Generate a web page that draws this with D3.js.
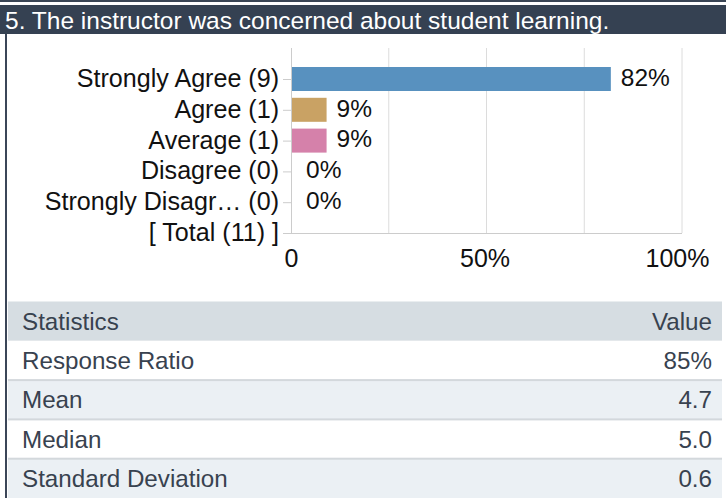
<!DOCTYPE html>
<html>
<head>
<meta charset="utf-8">
<script src="https://cdn.jsdelivr.net/npm/d3@7"></script>
<style>
  html, body { margin: 0; padding: 0; background: #ffffff; }
  svg { display: block; font-family: "Liberation Sans", Arial, Helvetica, sans-serif; }
</style>
</head>
<body>
<svg id="chart" width="726" height="498"></svg>
<script>
const title = "5. The instructor was concerned about student learning.";
const categories = ["Strongly Agree (9)", "Agree (1)", "Average (1)", "Disagree (0)", "Strongly Disagr\u2026 (0)", "[ Total (11) ]"];
const counts = [9, 1, 1, 0, 0];
const percents = [81.8, 9.1, 9.1, 0, 0];
const percentLabels = ["82%", "9%", "9%", "0%", "0%"];
const barColors = ["#5891bf", "#c9a264", "#d581aa", "#999999", "#999999"];
const gridTicks = [0, 25, 50, 75, 100];
const labelTicks = [0, 50, 100];
const labelTickText = ["0", "50%", "100%"];
const statNames = ["Response Ratio", "Mean", "Median", "Standard Deviation"];
const statValues = ["85%", "4.7", "5.0", "0.6"];
const statHeader = ["Statistics", "Value"];

const svg = d3.select("#chart");
const W = 726, H = 498;

// header band
svg.append("rect").attr("x", 0).attr("y", 0).attr("width", W).attr("height", 2).attr("fill", "#3a4555");
svg.append("rect").attr("x", 0).attr("y", 5).attr("width", W).attr("height", 29).attr("fill", "#354152");
svg.append("text").attr("x", 5).attr("y", 28.5).attr("fill", "#ffffff")
  .attr("font-size", 24.5).text(title);
// left border
svg.append("rect").attr("x", 5).attr("y", 34).attr("width", 2).attr("height", H - 34).attr("fill", "#3b4658");

// chart
const plotTop = 48, plotLeft = 291, plotRight = 682;
const x = d3.scaleLinear().domain([0, 100]).range([plotLeft, plotRight]);
const y = d3.scalePoint().domain(categories).range([79, 233]);
const bottom = y(categories[categories.length - 1]);

const g = svg.append("g");
// gridlines
g.selectAll("line.grid").data(gridTicks.slice(1)).enter().append("line")
  .attr("class", "grid")
  .attr("x1", d => x(d)).attr("x2", d => x(d))
  .attr("y1", plotTop).attr("y2", bottom)
  .attr("stroke", "#dcdcdc").attr("stroke-width", 1);

// left axis
const yAxis = d3.axisLeft(y).tickSize(8).tickPadding(4);
const ya = g.append("g").attr("transform", `translate(${plotLeft},0)`).call(yAxis);
ya.select(".domain").remove();
ya.selectAll(".tick line").attr("stroke", "#cccccc");
ya.selectAll(".tick text").attr("font-size", 25.1).attr("fill", "#111111")
  .attr("font-family", "'Liberation Sans', Arial, sans-serif").attr("dy", "0.3em");
g.append("line").attr("x1", plotLeft + 0.5).attr("x2", plotLeft + 0.5)
  .attr("y1", plotTop).attr("y2", bottom).attr("stroke", "#cccccc");
g.append("line").attr("x1", plotLeft).attr("x2", plotRight)
  .attr("y1", bottom + 0.5).attr("y2", bottom + 0.5).attr("stroke", "#cccccc");

// bottom tick labels
const xAxis = d3.axisBottom(x).tickValues(labelTicks)
  .tickFormat((d, i) => labelTickText[i]).tickSize(0).tickPadding(16);
const xa = g.append("g").attr("transform", `translate(0,${bottom})`).call(xAxis);
xa.select(".domain").remove();
xa.selectAll(".tick text").attr("font-size", 25).attr("fill", "#111111")
  .attr("font-family", "'Liberation Sans', Arial, sans-serif")
  .attr("dx", (d, i) => i === labelTicks.length - 1 ? -5 : (i === 0 ? 0 : -2));

// bars
const barH = 24;
const barData = categories.slice(0, percents.length).map((c, i) => ({c, v: percents[i], lab: percentLabels[i], col: barColors[i]}));
g.selectAll("rect.bar").data(barData.filter(d => d.v > 0)).enter().append("rect")
  .attr("class", "bar")
  .attr("x", x(0) + 1).attr("y", d => y(d.c) - barH / 2)
  .attr("width", d => x(d.v) - x(0) - 1).attr("height", barH)
  .attr("fill", d => d.col);
g.selectAll("text.val").data(barData).enter().append("text")
  .attr("class", "val")
  .attr("x", d => Math.max(x(d.v) + 10, x(0) + 15))
  .attr("y", d => y(d.c)).attr("dy", "0.28em")
  .attr("font-size", 24.5).attr("fill", "#111111").text(d => d.lab);

// statistics table
const tLeft = 8, tRight = 722, rowH = 39.3, tTop = 301.5;
const rows = [statHeader].concat(statNames.map((n, i) => [n, statValues[i]]));
const rowFills = ["#d6dde2", "#ffffff", "#ebf0f4", "#ffffff", "#ebf0f4"];
const tg = svg.append("g");
const rg = tg.selectAll("g.row").data(rows).enter().append("g")
  .attr("transform", (d, i) => `translate(0,${tTop + i * rowH})`);
rg.append("rect").attr("x", tLeft).attr("y", 0).attr("width", tRight - tLeft).attr("height", rowH)
  .attr("fill", (d, i) => rowFills[i]);
rg.filter((d, i) => i > 1).append("rect").attr("x", tLeft).attr("y", -1).attr("width", tRight - tLeft).attr("height", 2)
  .attr("fill", "#d3d8dc");
rg.append("text").attr("x", 22).attr("y", rowH / 2).attr("dy", "0.36em")
  .attr("font-size", 24.2).attr("fill", "#38424f").text(d => d[0]);
rg.append("text").attr("x", 712).attr("y", rowH / 2).attr("dy", "0.36em").attr("text-anchor", "end")
  .attr("font-size", 24.2).attr("fill", "#38424f").text(d => d[1]);
</script>
</body>
</html>
